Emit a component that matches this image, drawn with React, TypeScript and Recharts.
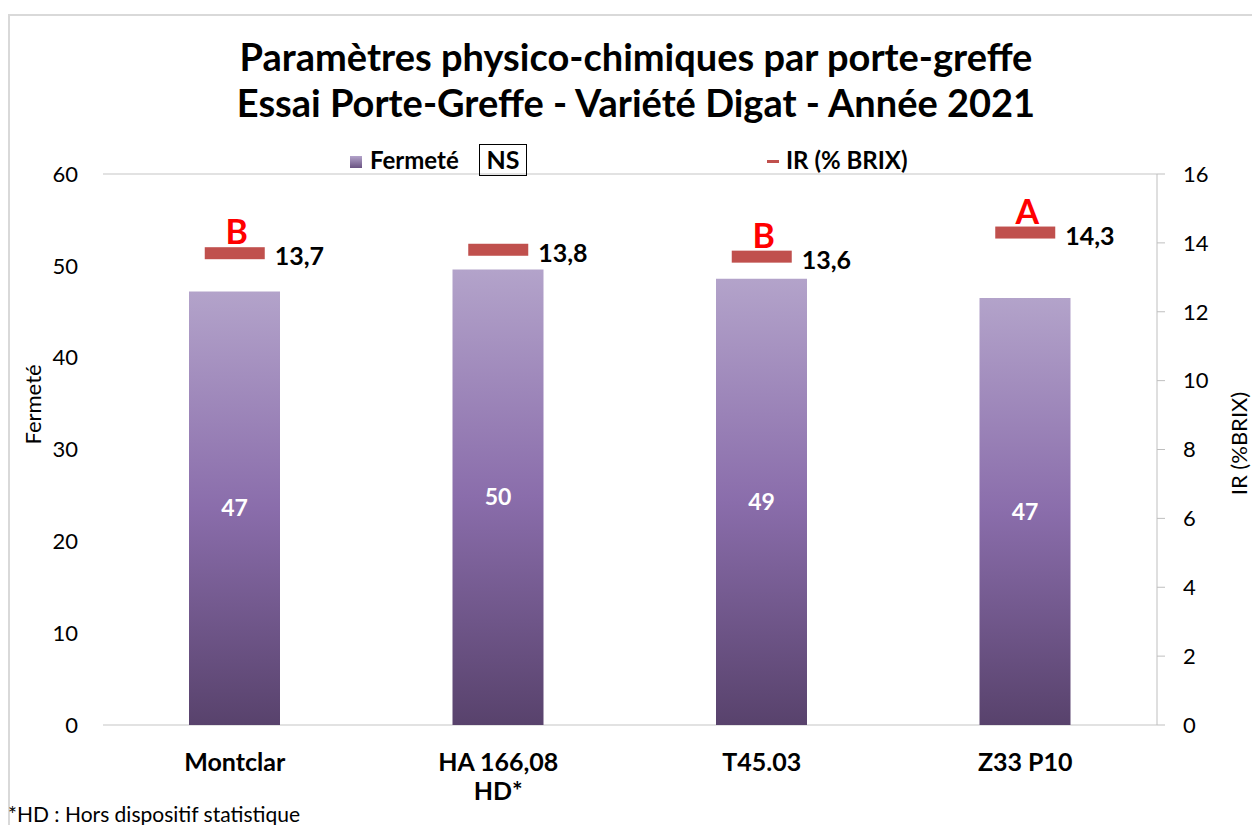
import { ComposedChart, Bar, Line, XAxis, YAxis, CartesianGrid, LabelList, Legend } from "recharts";

const categories = ["Montclar", "HA 166,08\nHD*", "T45.03", "Z33 P10"];
const fermete = [47.2, 49.6, 48.6, 46.5];
const ir = [13.7, 13.8, 13.6, 14.3];
const irLetters = ["B", "", "B", "A"];
const leftTicks = [0, 10, 20, 30, 40, 50, 60];
const rightTicks = [0, 2, 4, 6, 8, 10, 12, 14, 16];

const FONT = "Lato, 'Open Sans', sans-serif";
const RED = "#c0504d";

const data = categories.map((name, i) => ({
  name,
  fermete: fermete[i],
  ir: ir[i],
  letter: irLetters[i],
}));

// category tick, split on newline
const CatTick = (props: any) => {
  const { x, y, payload } = props;
  const lines = String(payload.value).split("\n");
  return (
    <g transform={`translate(${x},${y})`}>
      {lines.map((l, i) => (
        <text key={i} x={0} y={38 + i * 29} textAnchor="middle" fontFamily={FONT} fontWeight={700} fontSize={25} fill="#000">
          {l}
        </text>
      ))}
    </g>
  );
};

const IrDash = (props: any) => {
  const { cx, cy, index } = props;
  if (cx == null || cy == null) return <g key={index} />;
  return <rect key={index} x={cx - 30} y={cy - 6} width={60} height={12} fill={RED} />;
};

const IrValue = (props: any) => {
  const { x, y, value } = props;
  return (
    <text x={x + 40} y={y + 12} fontFamily={FONT} fontWeight={700} fontSize={25} fill="#000">
      {String(value).replace(".", ",")}
    </text>
  );
};

const IrLetter = (props: any) => {
  const { x, y, value } = props;
  if (!value) return null;
  return (
    <text x={x + 2} y={y - 9} textAnchor="middle" fontFamily={FONT} fontWeight={700} fontSize={34} fill="#ff0000">
      {value}
    </text>
  );
};

const LegendBox = () => (
  <div style={{ position: "relative", height: 28, fontFamily: FONT, fontWeight: 700, fontSize: 24, color: "#000" }}>
    <div style={{ position: "absolute", left: 350, top: 10, width: 12, height: 12, background: "linear-gradient(#b3a3ca, #6a5382)" }} />
    <div style={{ position: "absolute", left: 370, top: -1, lineHeight: "30px" }}>Fermeté</div>
    <div
      style={{
        position: "absolute",
        left: 479,
        top: -2,
        width: 48,
        height: 32,
        border: "1.5px solid #000",
        boxSizing: "border-box",
        textAlign: "center",
        lineHeight: "29px",
        fontSize: 25,
      }}
    >
      NS
    </div>
    <div style={{ position: "absolute", left: 767, top: 14, width: 12, height: 3, background: RED }} />
    <div style={{ position: "absolute", left: 786, top: -1, lineHeight: "30px" }}>IR (% BRIX)</div>
  </div>
);

export default function App() {
  return (
    <div style={{ position: "absolute", left: 0, top: 0, width: 1252, height: 825, background: "#fff", overflow: "hidden" }}>
      <div
        style={{
          position: "absolute",
          left: 8,
          top: 14,
          width: 1300,
          height: 900,
          border: "2px solid #d9d9d9",
        }}
      />
      <div
        style={{
          position: "absolute",
          left: 0,
          width: 1272,
          top: 33,
          textAlign: "center",
          fontFamily: FONT,
          fontWeight: 700,
          fontSize: 38,
          lineHeight: "46px",
          color: "#000",
        }}
      >
        <div>Paramètres physico-chimiques par porte-greffe</div>
        <div>Essai Porte-Greffe - Variété Digat - Année 2021</div>
      </div>
      <div style={{ position: "absolute", left: 0, top: 0 }}>
        <ComposedChart width={1252} height={825} data={data} margin={{ top: 146, right: 35, bottom: 20, left: 43 }}>
          <defs>
            <linearGradient id="barGrad" x1="0" y1="0" x2="0" y2="1">
              <stop offset="0%" stopColor="#b3a3ca" />
              <stop offset="50%" stopColor="#8a6dab" />
              <stop offset="100%" stopColor="#58426c" />
            </linearGradient>
          </defs>
          <Legend verticalAlign="top" content={LegendBox} wrapperStyle={{ left: 0, top: 146, width: 1252, height: 28 }} />
          <CartesianGrid vertical={false} stroke="#d9d9d9" strokeWidth={1.5} />
          <XAxis dataKey="name" tick={<CatTick />} axisLine={false} tickLine={false} height={80} interval={0} />
          <YAxis
            yAxisId="left"
            domain={[0, 60]}
            ticks={leftTicks}
            width={60}
            axisLine={false}
            tickLine={false}
            tickSize={0}
            tickMargin={25}
            tick={{ fontFamily: FONT, fontSize: 22, fill: "#000" }}
            label={(p: any) => {
              const vb = p.viewBox;
              const cx = vb.x - 11;
              const cy = vb.y + vb.height / 2 - 45;
              return (
                <text x={cx} y={cy} transform={`rotate(-90 ${cx} ${cy})`} textAnchor="middle" dominantBaseline="central" fontFamily={FONT} fontSize={22} fill="#000">
                  Fermeté
                </text>
              );
            }}
          />
          <YAxis
            yAxisId="right"
            orientation="right"
            domain={[0, 16]}
            ticks={rightTicks}
            width={60}
            axisLine={{ stroke: "#bfbfbf" }}
            tickLine={{ stroke: "#bfbfbf" }}
            tickSize={8}
            tickMargin={18}
            tick={{ fontFamily: FONT, fontSize: 22, fill: "#000", textAnchor: "start" }}
            label={(p: any) => {
              const vb = p.viewBox;
              const cx = vb.x + vb.width + 21;
              const cy = vb.y + vb.height / 2 - 6;
              return (
                <text x={cx} y={cy} transform={`rotate(-90 ${cx} ${cy})`} textAnchor="middle" dominantBaseline="central" fontFamily={FONT} fontSize={22} fill="#000">
                  IR (%BRIX)
                </text>
              );
            }}
          />
          <Bar yAxisId="left" dataKey="fermete" fill="url(#barGrad)" barSize={91} isAnimationActive={false}>
            <LabelList
              dataKey="fermete"
              position="center"
              formatter={(v: any) => Math.round(Number(v)).toString()}
              fill="#fff"
              fontFamily={FONT}
              fontWeight={700}
              fontSize={23}
            />
          </Bar>
          <Line
            yAxisId="right"
            dataKey="ir"
            stroke="none"
            strokeWidth={0}
            dot={IrDash}
            activeDot={false}
            isAnimationActive={false}
          >
            <LabelList dataKey="ir" content={IrValue} />
            <LabelList dataKey="letter" content={IrLetter} />
          </Line>
        </ComposedChart>
      </div>
      <div style={{ position: "absolute", left: 8, top: 803, fontFamily: FONT, fontSize: 21, color: "#000", lineHeight: "22px" }}>
        *HD : Hors dispositif statistique
      </div>
    </div>
  );
}
